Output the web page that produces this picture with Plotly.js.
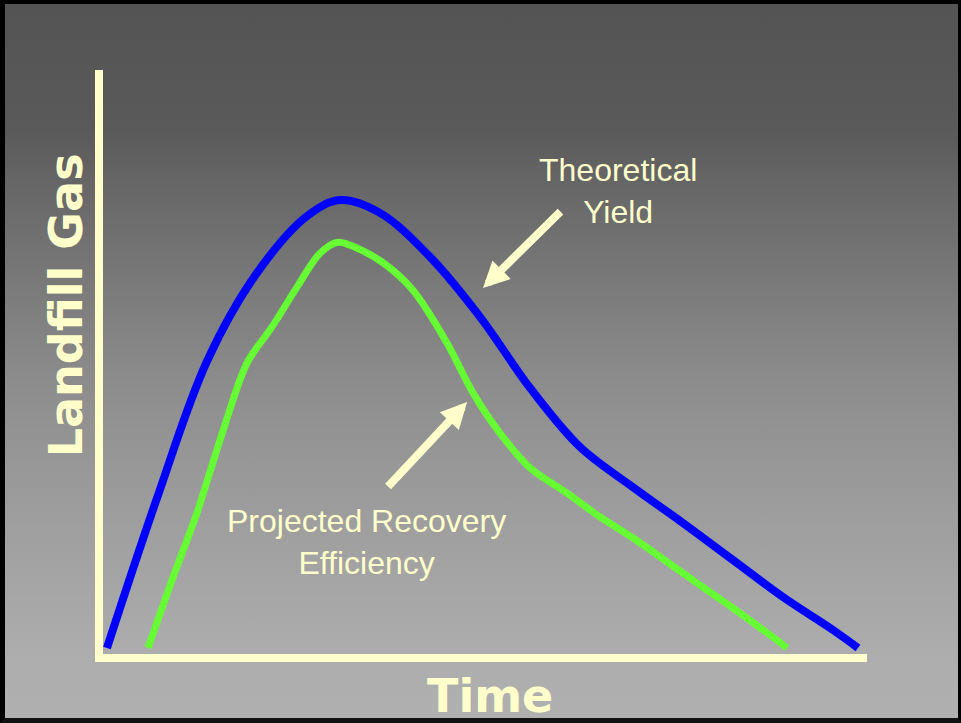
<!DOCTYPE html>
<html>
<head>
<meta charset="utf-8">
<script src="https://cdn.plot.ly/plotly-3.0.1.min.js"></script>
<style>
  html, body { margin: 0; padding: 0; width: 961px; height: 723px; overflow: hidden; }
  #frame {
    position: absolute; left: 0; top: 0; width: 961px; height: 723px; box-sizing: border-box;
    border-left: 5px solid #000; border-top: 4px solid #000; border-bottom: 5px solid #111; border-right: 3px solid #000;
    background: linear-gradient(to bottom, #545454 0%, #595959 16.6%, #5a5a5a 18%, #666666 24.9%, #8c8c8c 52.6%, #989898 65%, #adadad 91.3%, #b0b0b0 100%);
  }
  #chart { position: absolute; left: 0; top: 0; width: 961px; height: 723px; }
</style>
</head>
<body>
<div id="frame"></div>
<div id="chart"></div>
<script>
// Time (arbitrary units) and landfill gas (relative units)
const theoreticalTime = [1.05, 7.64, 14.23, 20.82, 27.40, 31.75, 37.02, 43.61, 50.20, 56.79, 63.37, 70.36, 76.94, 83.53, 90.12, 96.71, 100];
const theoreticalGas  = [2.2, 34.9, 64.8, 84.1, 96.5, 100, 97.2, 87.6, 74.5, 59.0, 46.1, 37.3, 29.5, 21.4, 13.3, 6.1, 2.2];

const recoveryTime = [6.46, 9.62, 12.91, 16.20, 19.50, 22.79, 26.09, 29.12, 31.49, 34.39, 37.68, 41.37, 45.85, 49.28, 52.83, 56.79, 61.66, 66.01, 70.36, 74.84, 79.18, 83.53, 88.01, 90.65];
const recoveryGas  = [2.2, 17.0, 31.7, 48.9, 64.4, 72.3, 81.0, 88.4, 90.8, 89.2, 86.0, 80.3, 68.8, 57.9, 49.1, 41.5, 36.0, 30.8, 26.2, 21.0, 15.9, 10.9, 5.5, 2.2];

const xLabel = "Time";
const yLabel = "Landfill Gas";
const theoreticalLabel = "Theoretical<br>Yield";
const recoveryLabel = "Projected Recovery<br>Efficiency";

const cream = "#ffffcc";
const font = "Liberation Sans, Arial, sans-serif";
const boldFont = "DejaVu Sans, Verdana, sans-serif";

const traces = [
  { x: theoreticalTime, y: theoreticalGas, type: "scatter", mode: "lines", name: "Theoretical Yield",
    line: { color: "#0000ff", width: 8, shape: "spline", smoothing: 1 }, hoverinfo: "skip" },
  { x: recoveryTime, y: recoveryGas, type: "scatter", mode: "lines", name: "Projected Recovery Efficiency",
    line: { color: "#66ff33", width: 7, shape: "spline", smoothing: 0.9 }, hoverinfo: "skip" }
];

const layout = {
  width: 961, height: 723,
  paper_bgcolor: "rgba(0,0,0,0)", plot_bgcolor: "rgba(0,0,0,0)",
  margin: { l: 103, r: 94, t: 70, b: 69 },
  showlegend: false,
  xaxis: {
    range: [0.527, 101.19], showgrid: false, zeroline: false, showticklabels: false, ticks: "",
    showline: true, linecolor: cream, linewidth: 8
  },
  yaxis: {
    range: [0.873, 128.4], showgrid: false, zeroline: false, showticklabels: false, ticks: "",
    showline: true, linecolor: cream, linewidth: 8
  },
  annotations: [
    { x: 0.5065, y: -0.072, xref: "paper", yref: "paper", text: xLabel, showarrow: false,
      xanchor: "center", yanchor: "middle",
      font: { family: boldFont, size: 46, color: cream, weight: "bold" } },
    { x: -0.048, y: 0.5976, xref: "paper", yref: "paper", text: yLabel, showarrow: false, textangle: -90,
      xanchor: "center", yanchor: "middle",
      font: { family: boldFont, size: 46, color: cream, weight: "bold" } },
    { x: 68.4, y: 102.0, xref: "x", yref: "y", text: theoreticalLabel, showarrow: false,
      font: { family: font, size: 32, color: cream }, align: "center" },
    { x: 35.3, y: 25.3, xref: "x", yref: "y", text: recoveryLabel, showarrow: false,
      font: { family: font, size: 32, color: cream }, align: "center" },
    { x: 50.6, y: 80.8, ax: 61.0, ay: 97.8, xref: "x", yref: "y", axref: "x", ayref: "y", text: "",
      showarrow: true, arrowhead: 2, arrowsize: 0.65, arrowwidth: 8, arrowcolor: cream },
    { x: 48.5, y: 55.9, ax: 37.9, ay: 37.1, xref: "x", yref: "y", axref: "x", ayref: "y", text: "",
      showarrow: true, arrowhead: 2, arrowsize: 0.65, arrowwidth: 8, arrowcolor: cream }
  ]
};

Plotly.newPlot("chart", traces, layout, { displayModeBar: false, staticPlot: true });
</script>
</body>
</html>
